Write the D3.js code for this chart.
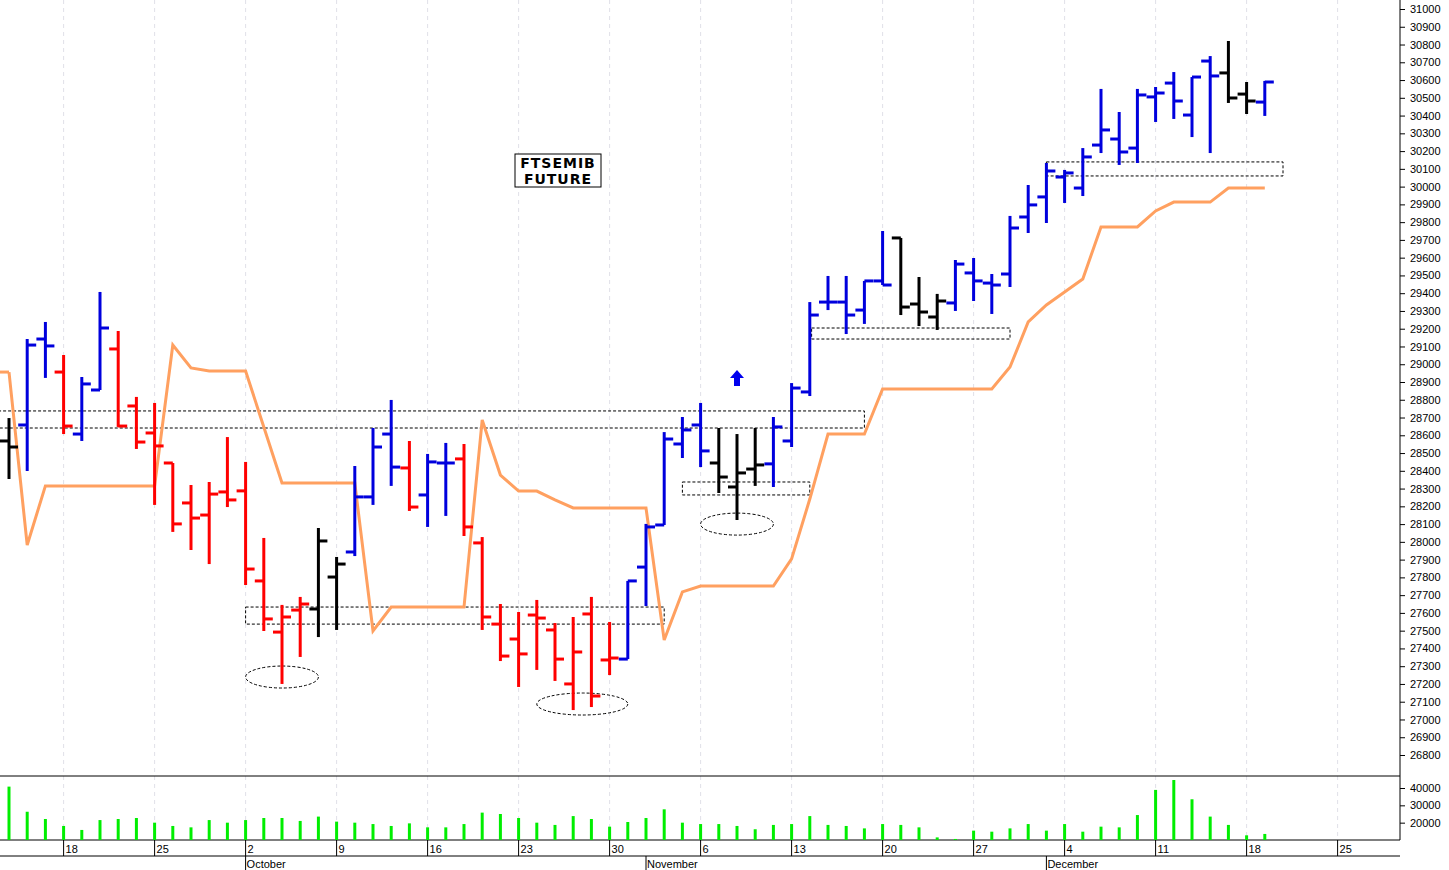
<!DOCTYPE html>
<html><head><meta charset="utf-8">
<script src="https://cdn.jsdelivr.net/npm/d3@7"></script>
<style>body{margin:0;background:#fff}svg{display:block}</style>
</head><body><svg id="c" width="1449" height="870"></svg>
<script>
const opens  = [28568,28658,29142,28956,28607,28855,29086,28765,28613,28444,28219,28151,28281,28287,27780,27492,27616,27622,27802,27943,28253,28607,28416,28264,28444,28467,27994,27537,27453,27588,27504,27200,27594,27335,27340,27858,28095,28551,28658,28444,28309,28410,28439,28568,28844,29350,29350,29305,29469,29711,29339,29266,29345,29514,29457,29508,29829,29942,30054,29992,30234,30268,30217,30505,30583,30403,30707,30640,30521,30476];
const highs  = [28697,29142,29238,29052,28928,29407,29187,28816,28782,28444,28320,28337,28590,28450,28022,27645,27690,28078,27915,28427,28641,28799,28568,28495,28557,28551,28027,27650,27605,27673,27543,27577,27690,27549,27780,28101,28618,28703,28782,28641,28607,28641,28703,28894,29350,29497,29497,29469,29750,29711,29491,29396,29587,29598,29508,29835,30009,30133,30094,30217,30550,30420,30550,30561,30645,30617,30735,30820,30589,30595];
const lows   = [28354,28399,28923,28607,28568,28855,28647,28523,28208,28056,27954,27875,28196,27757,27498,27200,27352,27464,27504,27920,28208,28315,28174,28084,28146,28033,27504,27329,27183,27279,27217,27053,27070,27250,27340,27639,28095,28472,28421,28275,28123,28315,28309,28534,28821,29305,29170,29227,29446,29277,29215,29193,29300,29356,29283,29435,29739,29795,29908,29947,30189,30122,30133,30364,30381,30279,30189,30471,30409,30398];
const closes = [28534,29108,29103,28652,28889,29204,28652,28562,28540,28101,28134,28269,28236,27847,27566,27577,27650,28005,27875,28253,28534,28421,28196,28450,28444,28084,27577,27357,27369,27571,27340,27380,27132,27346,27780,28084,28579,28630,28512,28365,28388,28433,28647,28866,29277,29350,29277,29469,29446,29322,29294,29356,29564,29469,29446,29767,29897,30088,30077,30167,30319,30195,30516,30527,30482,30617,30623,30499,30482,30589];
const barColors = ["k","b","b","r","b","b","r","r","r","r","r","r","r","r","r","r","r","k","k","b","b","b","r","b","b","r","r","r","r","r","r","r","r","r","b","b","b","b","b","k","k","k","b","b","b","b","b","b","b","k","k","k","b","b","b","b","b","b","b","b","b","b","b","b","b","b","b","k","k","b"];
const stopLine = [28956,27982,28315,28315,28315,28315,28315,28315,28315,29108,28979,28962,28962,28962,28647,28331,28331,28331,28331,28331,27498,27633,27633,27633,27633,27633,28686,28376,28286,28286,28236,28191,28191,28191,28191,28191,27447,27718,27751,27751,27751,27751,27751,27904,28241,28607,28607,28607,28861,28861,28861,28861,28861,28861,28861,28984,29238,29334,29407,29480,29773,29773,29773,29863,29913,29913,29913,29992,29992,29992];
const volumes = [40800,26300,22100,18100,15800,21500,22100,22700,20000,18100,17300,21500,20000,21500,22700,22700,21000,23500,20600,20000,19200,18100,19600,17300,17300,19200,25800,25000,22700,20000,18700,23800,22100,17700,20400,22700,27700,20000,19200,19200,18100,16200,18700,19200,23800,18700,18100,16700,19200,18700,17300,11500,10600,15400,14800,16700,19200,15400,19200,14800,17700,17300,24400,38900,44600,33500,23500,18700,12700,13500];
const priceTicks = d3.range(26800, 31001, 100);
const volTicks = [20000,30000,40000];
const weekIdx = [3,8,13,18,23,28,33,38,43,48,53,58,63,68,73];
const weekLabels = ["18","25","2","9","16","23","30","6","13","20","27","4","11","18","25"];
const monthIdx = [13,35,57];
const monthLabels = ["October","November","December"];
const zones = [[-0.6,47,28737,28641],[13,36,27633,27537],[37,44,28337,28264],[44.1,55,29204,29142],[57,70,30139,30060]];
const ellipses = [[15,27239,2],[31.5,27087,2.5],[40,28100,2]];
const title = ["FTSEMIB","FUTURE"];

const svg = d3.select("#c");
const x = d3.scaleLinear().domain([0,69]).range([9, 9+18.2*69]);
const y = d3.scaleLinear().domain([26800,31000]).range([755,9]);
const yv = d3.scaleLinear().domain([10000,40000]).range([840,788]);
const col = {b:"#0000dd", r:"#ff0000", k:"#000000"};

svg.append("g").selectAll("line").data(weekIdx).join("line")
  .attr("x1",d=>x(d)).attr("x2",d=>x(d)).attr("y1",0).attr("y2",840)
  .attr("stroke","#e0e0e8").attr("stroke-dasharray","4,4");

svg.append("line").attr("x1",0).attr("x2",1400).attr("y1",776).attr("y2",776).attr("stroke","#000");
svg.append("line").attr("x1",0).attr("x2",1400).attr("y1",840).attr("y2",840).attr("stroke","#000");
svg.append("line").attr("x1",0).attr("x2",1400).attr("y1",856).attr("y2",856).attr("stroke","#000");
svg.append("line").attr("x1",1400).attr("x2",1400).attr("y1",0).attr("y2",840).attr("stroke","#000");

const ya = d3.axisRight(y).tickValues(priceTicks).tickSize(5).tickFormat(d3.format("d"));
const ga = svg.append("g").attr("transform","translate(1400,0)").call(ya);
ga.select(".domain").remove();
ga.selectAll("text").attr("font-family","Arial, Liberation Sans").attr("font-size",11).attr("x",10);
const va = d3.axisRight(yv).tickValues(volTicks).tickSize(5).tickFormat(d3.format("d"));
const gv = svg.append("g").attr("transform","translate(1400,0)").call(va);
gv.select(".domain").remove();
gv.selectAll("text").attr("font-family","Arial, Liberation Sans").attr("font-size",11).attr("x",10);

const gd = svg.append("g");
weekIdx.forEach((k,i)=>{
  gd.append("line").attr("x1",x(k)).attr("x2",x(k)).attr("y1",840).attr("y2",856).attr("stroke","#000");
  gd.append("text").attr("x",x(k)+2).attr("y",853).text(weekLabels[i])
    .attr("font-family","Arial, Liberation Sans").attr("font-size",11);
});
monthIdx.forEach((k,i)=>{
  gd.append("line").attr("x1",x(k)).attr("x2",x(k)).attr("y1",856).attr("y2",870).attr("stroke","#000");
  gd.append("text").attr("x",x(k)+1).attr("y",868).text(monthLabels[i])
    .attr("font-family","Arial, Liberation Sans").attr("font-size",11);
});

svg.append("g").selectAll("rect").data(zones).join("rect")
  .attr("x",d=>x(d[0])).attr("width",d=>x(d[1])-x(d[0]))
  .attr("y",d=>y(d[2])).attr("height",d=>y(d[3])-y(d[2]))
  .attr("fill","none").attr("stroke","#000").attr("stroke-dasharray","3,2").attr("stroke-width",1);
svg.append("g").selectAll("ellipse").data(ellipses).join("ellipse")
  .attr("cx",d=>x(d[0])).attr("cy",d=>y(d[1])).attr("rx",d=>x(d[2])-x(0)).attr("ry",11)
  .attr("fill","none").attr("stroke","#000").attr("stroke-dasharray","3,2");

svg.append("path").datum(stopLine)
  .attr("d", d3.line().x((d,i)=>x(i)).y(d=>y(d)))
  .attr("fill","none").attr("stroke","#ffa060").attr("stroke-width",3);
svg.append("line").attr("x1",0).attr("x2",x(0)).attr("y1",y(stopLine[0])).attr("y2",y(stopLine[0]))
  .attr("stroke","#ffa060").attr("stroke-width",3);

const gb = svg.append("g").attr("stroke-width",3);
opens.forEach((o,i)=>{
  const c = col[barColors[i]], xi = x(i);
  gb.append("line").attr("x1",xi).attr("x2",xi).attr("y1",y(highs[i])).attr("y2",y(lows[i])).attr("stroke",c);
  gb.append("line").attr("x1",xi-9).attr("x2",xi).attr("y1",y(o)).attr("y2",y(o)).attr("stroke",c);
  gb.append("line").attr("x1",xi).attr("x2",xi+9).attr("y1",y(closes[i])).attr("y2",y(closes[i])).attr("stroke",c);
});

svg.append("g").selectAll("line").data(volumes).join("line")
  .attr("x1",(d,i)=>x(i)).attr("x2",(d,i)=>x(i)).attr("y1",840).attr("y2",d=>yv(d))
  .attr("stroke","#00ee00").attr("stroke-width",3);

svg.append("rect").attr("x",515).attr("y",154).attr("width",86).attr("height",33)
  .attr("fill","#fff").attr("stroke","#000");
title.forEach((t,i)=>svg.append("text").attr("x",558).attr("y",168+i*16).attr("text-anchor","middle")
  .attr("font-family","DejaVu Sans, Arial").attr("font-weight","bold").attr("font-size",14)
  .attr("letter-spacing",1).text(t));

const ax = x(40);
svg.append("path").attr("d",`M${ax},370 L${ax+7},378 L${ax+3},378 L${ax+3},386 L${ax-3},386 L${ax-3},378 L${ax-7},378 Z`)
  .attr("fill","#0000ee");
</script></body></html>
